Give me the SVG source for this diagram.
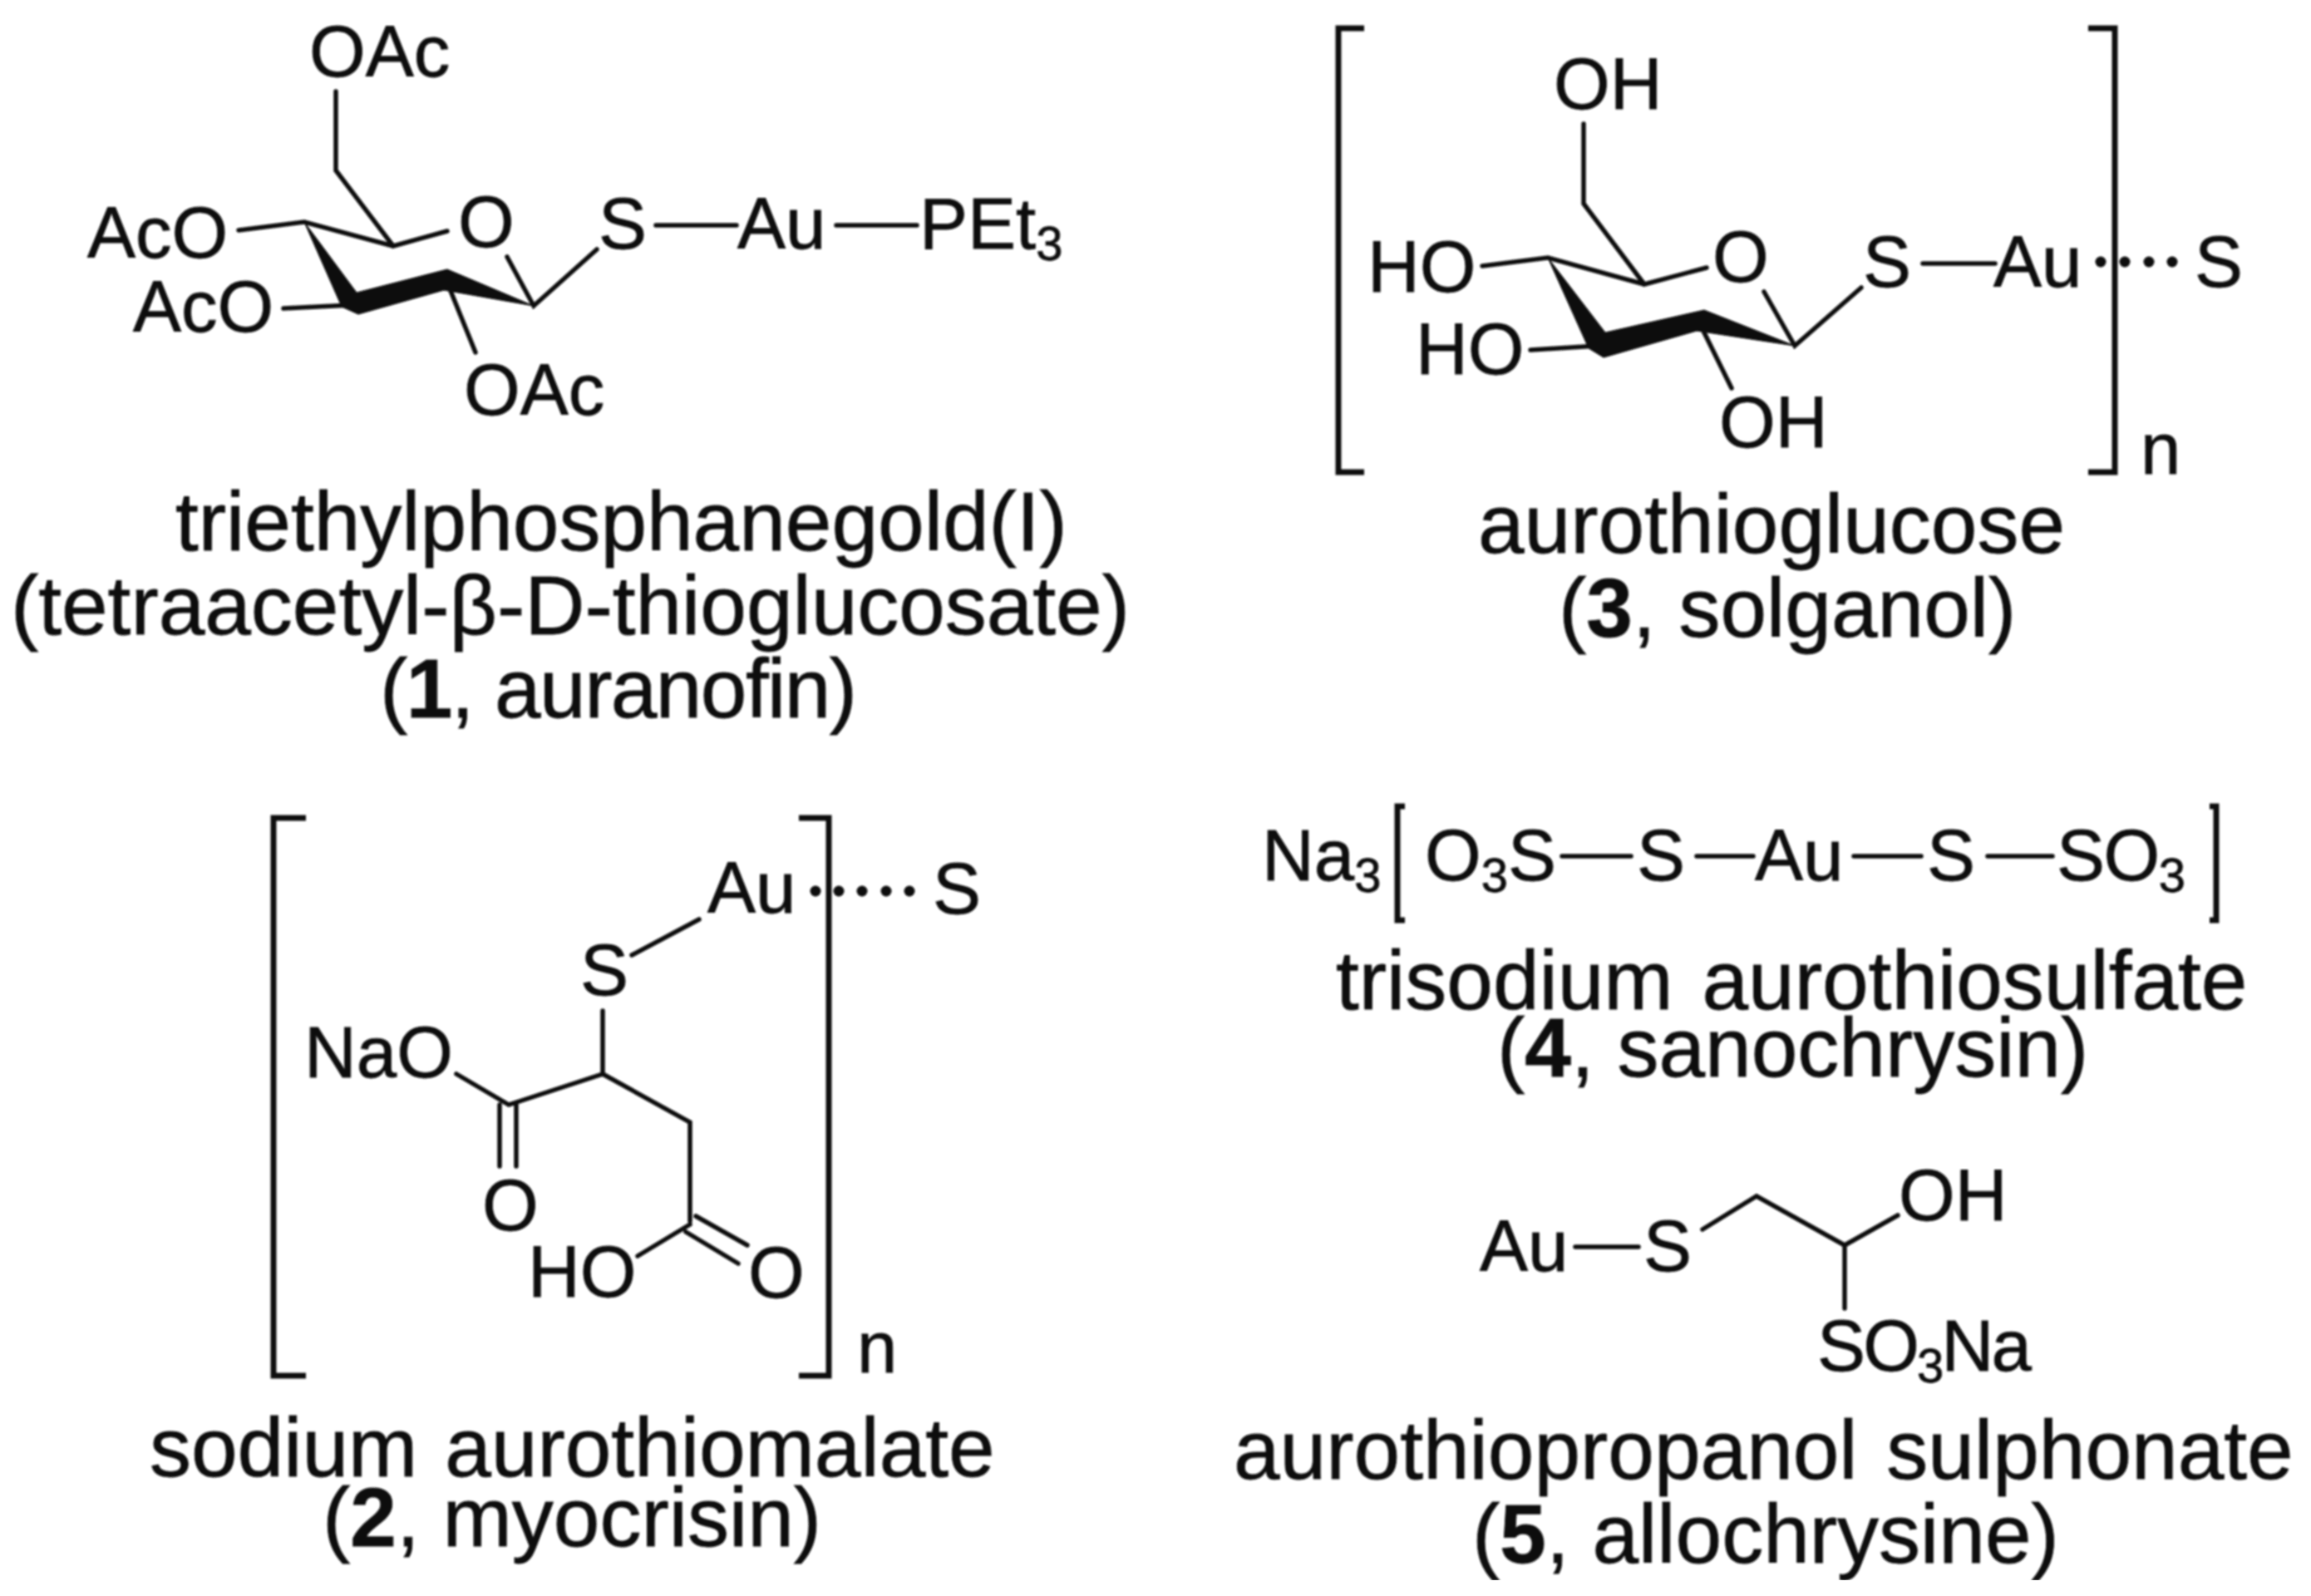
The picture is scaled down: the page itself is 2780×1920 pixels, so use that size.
<svg xmlns="http://www.w3.org/2000/svg" width="2780" height="1920" viewBox="0 0 2780 1920">
<style>
text{font-family:"Liberation Sans",Arial,sans-serif;fill:#111;stroke:#111;stroke-width:.8}
.a{font-size:87px}
.c{font-size:100px}
.s{font-size:58px}
.b{font-weight:bold}
.l{stroke:#111;stroke-width:5.5;fill:none;stroke-linecap:round;stroke-linejoin:miter}
.k{stroke:#111;stroke-width:7;fill:none}
.w{fill:#0a0a0a;stroke:#0a0a0a;stroke-width:1;stroke-linejoin:round}
.d{fill:#0a0a0a}
</style>
<defs><filter id="soft" x="0" y="0" width="100%" height="100%"><feGaussianBlur stdDeviation="1"/></filter></defs>
<rect width="2780" height="1920" fill="#fff"/>
<g filter="url(#soft)">
<g id="connectors">
<path class="l" d="M404 110V205L473 296L538 278M287 277L366 267L473 296M341 371L422 367M610 309L642 368L718 300M538 340L572 424M789 271H886M1006 271H1103"/>
<polygon class="w" points="366,267 429,352 538,324 642,368 534,349 431,378 411,369"/>
<path class="l" d="M1905 149V245L1978 342L2053 322M1783 320L1862 310L1978 342M1841 421L1922 416M2122 351L2159 416L2239 346M2046 392L2083 467M2313 317H2400"/>
<polygon class="w" points="1862,310 1931,400 2050,373 2159,416 2041,398 1929,430 1911,419"/>
<path class="l" d="M760 1149L841 1106M725 1216V1292L612 1329L549 1292M725 1292L830 1350V1469M601 1329V1403M621 1329V1403M830 1473L767 1511M825 1482L888 1520M837 1463L899 1498"/>
<path class="l" d="M1879 1030H1962M2041 1030H2109M2230 1030H2311M2391 1030H2469"/>
<path class="l" d="M1895 1500H1971M2048 1479L2113 1439L2219 1498L2283 1462M2219 1498V1574"/>
<path class="k" d="M1641 34H1610V568H1641M2512 34H2544V568H2512"/>
<path class="k" d="M368 984H329V1655H368M961 984H997V1655H961"/>
<path class="k" d="M1690 970H1681V1107H1690M2658 970H2666V1107H2658"/>
<g class="d"><circle cx="2527" cy="315" r="6.5"/><circle cx="2556" cy="315" r="6.5"/><circle cx="2585" cy="315" r="6.5"/><circle cx="2613" cy="315" r="6.5"/>
<circle cx="981" cy="1072" r="6.5"/><circle cx="1009" cy="1072" r="6.5"/><circle cx="1037" cy="1072" r="6.5"/><circle cx="1066" cy="1072" r="6.5"/><circle cx="1094" cy="1072" r="6.5"/></g>
</g>
<g id="node-1">
<text class="a" x="372" y="92">OAc</text>
<text class="a" x="105" y="310">AcO</text>
<text class="a" x="160" y="399">AcO</text>
<text class="a" x="551" y="297">O</text>
<text class="a" x="720" y="299">S</text>
<text class="a" x="887" y="299">Au</text>
<text class="a" x="1106" y="299">PEt<tspan class="s" dy="14">3</tspan></text>
<text class="a" x="558" y="499">OAc</text>
<text class="c" x="211" y="662">triethylphosphanegold(I)</text>
<text class="c" x="13" y="763" textLength="1346" lengthAdjust="spacing">(tetraacetyl-β-D-thioglucosate)</text>
<text class="c" x="457" y="863" textLength="574" lengthAdjust="spacing">(<tspan class="b">1</tspan>, auranofin)</text>
</g>
<g id="node-2">
<text class="a" x="851" y="1098">Au</text>
<text class="a" x="1122" y="1099">S</text>
<text class="a" x="698" y="1197">S</text>
<text class="a" x="366" y="1296">NaO</text>
<text class="a" x="580" y="1480">O</text>
<text class="a" x="635" y="1560">HO</text>
<text class="a" x="900" y="1561">O</text>
<text class="a" x="1031" y="1651">n</text>
<text class="c" x="180" y="1776" style="word-spacing:5px">sodium aurothiomalate</text>
<text class="c" x="388" y="1860">(<tspan class="b">2</tspan>, myocrisin)</text>
</g>
<g id="node-3">
<text class="a" x="1869" y="131">OH</text>
<text class="a" x="1645" y="351">HO</text>
<text class="a" x="1703" y="450">HO</text>
<text class="a" x="2060" y="339">O</text>
<text class="a" x="2241" y="345">S</text>
<text class="a" x="2398" y="345">Au</text>
<text class="a" x="2640" y="345">S</text>
<text class="a" x="2068" y="538">OH</text>
<text class="a" x="2575" y="570">n</text>
<text class="c" x="1778" y="665">aurothioglucose</text>
<text class="c" x="1875" y="766">(<tspan class="b">3</tspan>, solganol)</text>
</g>
<g id="node-4">
<text class="a" x="1518" y="1059">Na<tspan class="s" dy="14">3</tspan></text>
<text class="a" x="1714" y="1059">O<tspan class="s" dy="14">3</tspan><tspan dy="-14">S</tspan></text>
<text class="a" x="1969" y="1059">S</text>
<text class="a" x="2111" y="1059">Au</text>
<text class="a" x="2318" y="1059">S</text>
<text class="a" x="2474" y="1059" textLength="155" lengthAdjust="spacing">SO<tspan class="s" dy="14">3</tspan></text>
<text class="c" x="1607" y="1214" style="word-spacing:7px">trisodium aurothiosulfate</text>
<text class="c" x="1801" y="1295">(<tspan class="b">4</tspan>, sanochrysin)</text>
</g>
<g id="node-5">
<text class="a" x="1780" y="1529">Au</text>
<text class="a" x="1977" y="1529">S</text>
<text class="a" x="2284" y="1468">OH</text>
<text class="a" x="2186" y="1649" textLength="258" lengthAdjust="spacing">SO<tspan class="s" dy="14">3</tspan><tspan dy="-14">Na</tspan></text>
<text class="c" x="1484" y="1779" style="word-spacing:7px">aurothiopropanol sulphonate</text>
<text class="c" x="1771" y="1880">(<tspan class="b">5</tspan>, allochrysine)</text>
</g>
</g>
</svg>
